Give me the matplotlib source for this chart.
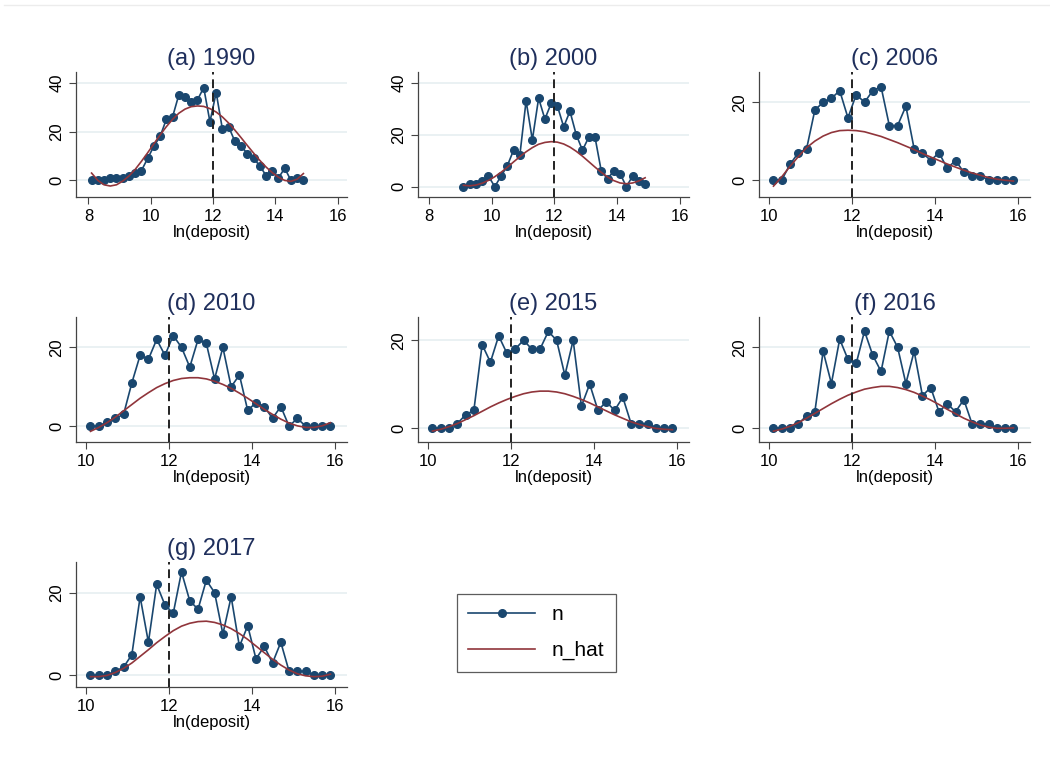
import matplotlib
matplotlib.use("Agg")
import matplotlib.pyplot as plt
from matplotlib.lines import Line2D

plt.rcParams['font.family'] = ['Liberation Sans', 'DejaVu Sans']

# bin centres of ln(deposit)
x_1990 = [8.1, 8.3, 8.5, 8.7, 8.9, 9.1, 9.3, 9.5, 9.7, 9.9, 10.1, 10.3, 10.5, 10.7, 10.9,
          11.1, 11.3, 11.5, 11.7, 11.9, 12.1, 12.3, 12.5, 12.7, 12.9, 13.1, 13.3, 13.5,
          13.7, 13.9, 14.1, 14.3, 14.5, 14.7, 14.9]
x_2000 = [9.1, 9.3, 9.5, 9.7, 9.9, 10.1, 10.3, 10.5, 10.7, 10.9, 11.1, 11.3, 11.5, 11.7,
          11.9, 12.1, 12.3, 12.5, 12.7, 12.9, 13.1, 13.3, 13.5, 13.7, 13.9, 14.1, 14.3,
          14.5, 14.7, 14.9]
x_late = [10.1, 10.3, 10.5, 10.7, 10.9, 11.1, 11.3, 11.5, 11.7, 11.9, 12.1, 12.3, 12.5,
          12.7, 12.9, 13.1, 13.3, 13.5, 13.7, 13.9, 14.1, 14.3, 14.5, 14.7, 14.9, 15.1,
          15.3, 15.5, 15.7, 15.9]

n_1990 = [0, 0, 0, 1, 1, 1, 2, 3, 4, 9, 14, 18, 25, 26, 35, 34, 32, 33, 38, 24, 36, 21,
          22, 16, 14, 11, 9, 6, 2, 4, 1, 5, 0, 1, 0]
nhat_1990 = [3, 0, -1.8, -2.3, -1.8, -0.3, 1.8, 4.5, 7.8, 11.3, 15, 18.6, 22, 25, 27.5,
             29.2, 30.2, 30.5, 30.3, 29.4, 28, 26, 23.5, 20.6, 17.5, 14.3, 11.2, 8.2, 5.5,
             3.2, 1.3, 0, -0.4, 0.5, 2.8]

n_2000 = [0, 1, 1, 2, 4, 0, 4, 8, 14, 12, 33, 18, 34, 26, 32, 31, 23, 29, 20, 14, 19, 19,
          6, 3, 6, 5, 0, 4, 2, 1]
nhat_2000 = [0.5, 0.3, 0.6, 1.3, 2.4, 3.8, 5.5, 7.4, 9.5, 11.5, 13.4, 15, 16.3, 17, 17.3,
             17.1, 16.4, 15.2, 13.6, 11.7, 9.6, 7.5, 5.5, 3.7, 2.3, 1.4, 1.1, 1.4, 2.2, 3.4]

n_2006 = [0, 0, 4, 7, 8, 18, 20, 21, 23, 16, 22, 20, 23, 24, 14, 14, 19, 8, 7, 5, 7, 3, 5,
          2, 1, 1, 0, 0, 0, 0]
nhat_2006 = [-1.6, 0.8, 3.5, 6, 8.3, 10, 11.3, 12.2, 12.7, 12.8, 12.7, 12.4, 11.8, 11.2,
             10.4, 9.6, 8.7, 7.8, 6.8, 5.9, 5.0, 4.1, 3.3, 2.5, 1.8, 1.2, 0.6, 0.2, -0.1, -0.3]

n_2010 = [0, 0, 1, 2, 3, 11, 18, 17, 22, 18, 23, 20, 15, 22, 21, 12, 20, 10, 13, 4, 6, 5,
          2, 5, 0, 2, 0, 0, 0, 0]
nhat_2010 = [-1.3, -0.3, 0.9, 2.3, 3.9, 5.5, 7.1, 8.5, 9.8, 10.8, 11.6, 12.1, 12.3, 12.3,
             12.0, 11.4, 10.6, 9.6, 8.4, 7.1, 5.7, 4.3, 3.0, 1.8, 0.8, 0.1, -0.3, -0.3, 0.1, 0.9]

n_2015 = [0, 0, 0, 1, 3, 4, 19, 15, 21, 17, 18, 20, 18, 18, 22, 20, 12, 20, 5, 10, 4, 6,
          4, 7, 1, 1, 1, 0, 0, 0]
nhat_2015 = [-0.7, -0.3, 0.3, 1.0, 1.9, 2.8, 3.8, 4.8, 5.7, 6.5, 7.2, 7.8, 8.2, 8.4, 8.4,
             8.2, 7.8, 7.2, 6.5, 5.7, 4.8, 3.9, 3.0, 2.2, 1.4, 0.8, 0.3, -0.1, -0.3, -0.4]

n_2016 = [0, 0, 0, 1, 3, 4, 19, 11, 22, 17, 16, 24, 18, 14, 24, 20, 11, 19, 8, 10, 4, 6,
          4, 7, 1, 1, 1, 0, 0, 0]
nhat_2016 = [-0.8, -0.3, 0.4, 1.3, 2.4, 3.6, 4.8, 6.0, 7.1, 8.1, 8.9, 9.6, 10.0, 10.3, 10.3,
             10.0, 9.5, 8.8, 7.9, 6.9, 5.8, 4.6, 3.5, 2.4, 1.5, 0.7, 0.2, -0.1, -0.1, 0]

n_2017 = [0, 0, 0, 1, 2, 5, 19, 8, 22, 17, 15, 25, 18, 16, 23, 20, 10, 19, 7, 12, 4, 7, 3,
          8, 1, 1, 1, 0, 0, 0]
nhat_2017 = [-0.3, -0.3, 0, 0.7, 1.7, 3.0, 4.6, 6.2, 7.9, 9.4, 10.8, 11.9, 12.6, 13.0, 13.1,
             12.8, 12.2, 11.3, 10.1, 8.7, 7.1, 5.5, 3.9, 2.5, 1.3, 0.4, -0.1, -0.3, -0.2, 0.3]

titles = ["(a) 1990", "(b) 2000", "(c) 2006", "(d) 2010", "(e) 2015", "(f) 2016", "(g) 2017"]
xs = [x_1990, x_2000, x_late, x_late, x_late, x_late, x_late]
ns = [n_1990, n_2000, n_2006, n_2010, n_2015, n_2016, n_2017]
nhats = [nhat_1990, nhat_2000, nhat_2006, nhat_2010, nhat_2015, nhat_2016, nhat_2017]
xticks = [[8, 10, 12, 14, 16]] * 2 + [[10, 12, 14, 16]] * 5
yticks = [[0, 20, 40]] * 2 + [[0, 20]] * 5
xlims = [(7.6, 16.3), (7.65, 16.3)] + [(9.75, 16.3)] * 5
ylims = [(-6.8, 44.4), (-4.0, 44.1), (-4.4, 27.8), (-4.0, 27.7), (-3.2, 25.3), (-3.5, 27.5), (-2.8, 27.4)]
cutoff = 12

navy = "#1a476f"
maroon = "#90353b"
title_col = "#1f2f5c"

W, H = 1050, 769
fig = plt.figure(figsize=(W / 100, H / 100), dpi=100)

# faint frame line across the top of the image
fig.add_artist(Line2D([4 / W, 1], [1 - 5 / H, 1 - 5 / H], color="#ececec", lw=1))

lefts = [76, 418, 759]
tops = [72, 317, 562]
aw, ah = 271, 125

for i in range(7):
    r, c = divmod(i, 3)
    ax = fig.add_axes([lefts[c] / W, 1 - (tops[r] + ah) / H, aw / W, ah / H])
    for y in yticks[i]:
        ax.axhline(y, color="#e6eff1", lw=1.2, zorder=0)
    ax.plot(xs[i], ns[i], color=navy, lw=1.2, marker="o", ms=5.5, zorder=3)
    ax.plot(xs[i], nhats[i], color=maroon, lw=1.2, zorder=4)
    ax.axvline(cutoff, color="#222222", lw=1.4, ls=(0, (4.5, 2.5)), zorder=5)
    ax.set_xlim(*xlims[i])
    ax.set_ylim(*ylims[i])
    ax.set_xticks(xticks[i])
    ax.set_yticks(yticks[i])
    ax.tick_params(labelsize=12, length=5, width=0.8, color="#444444")
    plt.setp(ax.get_yticklabels(), rotation=90, va="center")
    ax.spines["top"].set_visible(False)
    ax.spines["right"].set_visible(False)
    for s in ["left", "bottom"]:
        ax.spines[s].set_color("#444444")
        ax.spines[s].set_linewidth(0.9)
    ax.set_xlabel("ln(deposit)", fontsize=12, labelpad=1)
    ax.set_title(titles[i], fontsize=17, color=title_col, pad=5)

handles = [Line2D([0, 0.5, 1], [0, 0, 0], color=navy, lw=1.2, marker="o", ms=5.5,
                  markevery=[1], label="n"),
           Line2D([0], [0], color=maroon, lw=1.2, label="n_hat")]
leg = fig.legend(handles=handles, loc="upper left", bbox_to_anchor=(457 / W, 1 - 594 / H),
                 fontsize=15, frameon=True, fancybox=False, edgecolor="#333333",
                 handlelength=3.2, borderpad=0.55, labelspacing=0.8, handletextpad=0.8,
                 borderaxespad=0)
leg.get_frame().set_linewidth(0.9)

fig.savefig("out.png", dpi=100, facecolor="white")
